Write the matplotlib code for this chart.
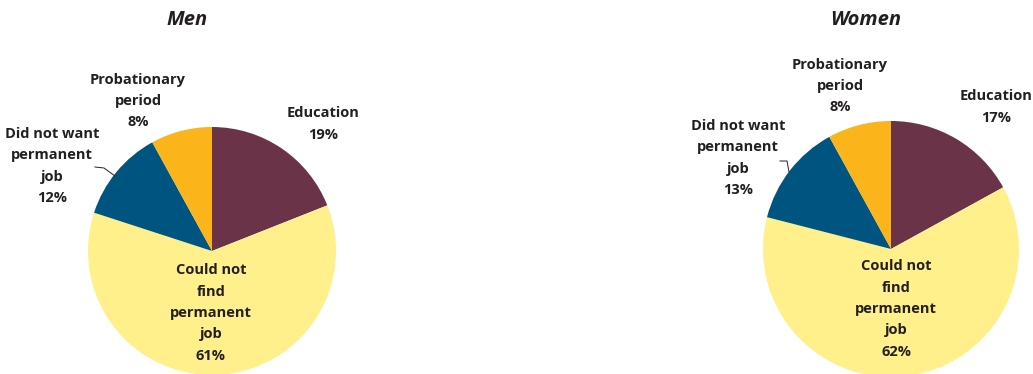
import matplotlib
matplotlib.use('Agg')
import matplotlib.pyplot as plt

plt.rcParams['font.family'] = ['Open Sans', 'DejaVu Sans']

W, H = 1033, 374

categories = ['Education', 'Could not find permanent job', 'Did not want permanent job', 'Probationary period']
men = [19, 61, 12, 8]
women = [17, 62, 13, 8]
colors = ['#6b3348', '#fff08c', '#005580', '#fbb51a']

TXT = '#231f20'
FS = 10.5

fig = plt.figure(figsize=(W / 100, H / 100), dpi=100)
ax = fig.add_axes([0, 0, 1, 1])
ax.set_xlim(0, W)
ax.set_ylim(0, H)
ax.set_aspect('equal')
ax.axis('off')


def lbl(x, y, s):
    # y given from top edge
    ax.text(x, H - y, s, ha='center', va='center', fontsize=FS,
            fontweight='bold', color=TXT, linespacing=1.68)


def draw(vals, cx, cy, r, title, tx, pos, leader):
    ax.pie(vals, colors=colors, startangle=90, counterclock=False,
           center=(cx, H - cy), radius=r, frame=True,
           wedgeprops=dict(linewidth=0))
    ax.text(tx, H - 20, title, ha='center', va='center', fontsize=14.5,
            fontweight='bold', fontstyle='italic', color=TXT)
    names = ['Education', 'Could not\nfind\npermanent\njob',
             'Did not want\npermanent\njob', 'Probationary\nperiod']
    for n, v, (x, y) in zip(names, vals, pos):
        lbl(x, y, '%s\n%d%%' % (n, v))
    xs, ys = zip(*leader)
    ax.plot(xs, [H - y for y in ys], color=TXT, lw=0.7)


draw(men, 212, 251, 124, 'Men', 187,
     [(323, 124), (211, 313), (52, 166), (138, 101)],
     [(95, 167), (104, 168), (115, 176)])
draw(women, 891, 249, 128, 'Women', 866,
     [(996, 107), (896, 309), (738, 158), (840, 86)],
     [(780, 161), (787, 161), (789, 172)])

ax.set_xlim(0, W)
ax.set_ylim(0, H)
ax.axis('off')

fig.savefig('out.png', dpi=100)
